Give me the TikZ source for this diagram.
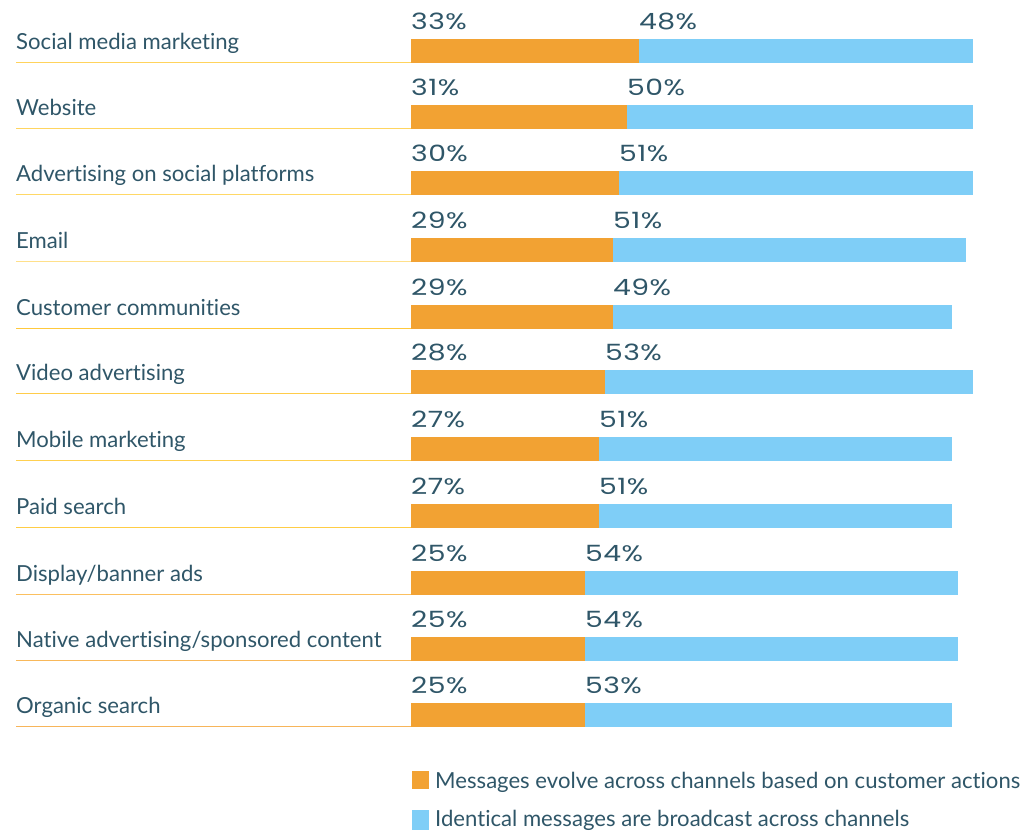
\documentclass[tikz,border=0pt]{standalone}
\usepackage{fontspec}
\setmainfont{Lato}[Ligatures=NoCommon]
\newfontfamily\numfont{Poppins}[FakeStretch=1.26,LetterSpace=2]
\definecolor{txt}{HTML}{2F5668}
\definecolor{orangebar}{HTML}{F2A233}
\definecolor{bluebar}{HTML}{7FCEF7}
\definecolor{ul1}{HTML}{FFD35C}
\definecolor{ul2}{HTML}{FFD560}
\definecolor{ul3}{HTML}{FFD866}
\definecolor{ul4}{HTML}{FFE08A}
\definecolor{ul5}{HTML}{FFC93C}
\definecolor{ul6}{HTML}{FFCC4A}
\definecolor{ul7}{HTML}{FFD050}
\definecolor{ul8}{HTML}{FFCD45}
\definecolor{ul9}{HTML}{FBC060}
\definecolor{ul10}{HTML}{F8B85A}
\definecolor{ul11}{HTML}{F7B55A}
\tikzset{
  lab/.style={inner sep=0pt, text=txt, font=\fontsize{22.2}{26}\selectfont},
  pct/.style={inner sep=0pt, text=txt, font=\numfont\fontsize{22.5}{26}\selectfont},
  uline/.style={line width=1.6bp},
  obar/.style={fill=orangebar},
  bbar/.style={fill=bluebar},
}
\newcommand\chartrow[8]{%
  \draw[uline, draw=#8] (16,#3+23.5) -- (411,#3+23.5);
  \fill[obar] (411,#3) rectangle (#4,#3+24);
  \fill[bbar] (#4,#3) rectangle (#5,#3+24);
  \node[lab, anchor=base west] (l#1) at (16,#3+10) {#2};
  \node[pct, anchor=base west] (p#1) at (411,#3-10) {#6\%};
  \node[pct, anchor=base west] (q#1) at (#4,#3-10) {#7\%};
}
\begin{document}
\begin{tikzpicture}[x=1bp,y=-1bp]
\useasboundingbox (0,0) rectangle (1030,831);
\chartrow{1}{Social media marketing}{39}{639}{973}{33}{48}{ul1}
\chartrow{2}{Website}{105}{627}{973}{31}{50}{ul2}
\chartrow{3}{Advertising on social platforms}{171}{619}{973}{30}{51}{ul3}
\chartrow{4}{Email}{238}{613}{966}{29}{51}{ul4}
\chartrow{5}{Customer communities}{305}{613}{952}{29}{49}{ul5}
\chartrow{6}{Video advertising}{370}{605}{973}{28}{53}{ul6}
\chartrow{7}{Mobile marketing}{437}{599}{952}{27}{51}{ul7}
\chartrow{8}{Paid search}{504}{599}{952}{27}{51}{ul8}
\chartrow{9}{Display/banner ads}{571}{585}{958}{25}{54}{ul9}
\chartrow{10}{Native advertising/sponsored content}{637}{585}{958}{25}{54}{ul10}
\chartrow{11}{Organic search}{703}{585}{952}{25}{53}{ul11}
% legend
\fill[obar] (412,771) rectangle (429,789);
\node[lab, anchor=base west] (leg1) at (435,788) {Messages evolve across channels based on customer actions};
\fill[bbar] (412,810) rectangle (429,830);
\node[lab, anchor=base west] (leg2) at (435,826) {Identical messages are broadcast across channels};
\end{tikzpicture}
\end{document}
